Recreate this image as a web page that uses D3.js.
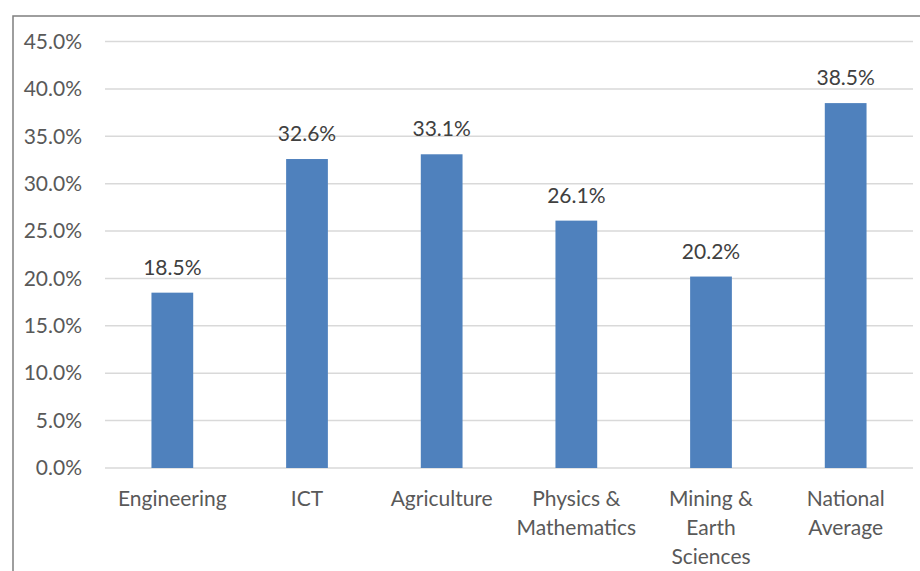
<!DOCTYPE html>
<html>
<head>
<meta charset="utf-8">
<script src="https://cdn.jsdelivr.net/npm/d3@7"></script>
<style>
  html, body { margin: 0; padding: 0; background: #fff; }
  svg { display: block; }
  text { font-family: Lato, "Open Sans", sans-serif; }
</style>
</head>
<body>
<svg id="chart" width="920" height="571"></svg>
<script>
// Share of graduates by field (percent)
const categories = [
  ["Engineering"],
  ["ICT"],
  ["Agriculture"],
  ["Physics &", "Mathematics"],
  ["Mining &", "Earth", "Sciences"],
  ["National", "Average"]
];
const values = [18.5, 32.6, 33.1, 26.1, 20.2, 38.5];
const tickValues = [0, 5, 10, 15, 20, 25, 30, 35, 40, 45];

const svg = d3.select("#chart");
const W = 920, H = 571;
const plot = { left: 105, right: 913, top: 41.5, bottom: 468 };
const fontSize = "21px";

// outer chart frame (runs past the right and bottom edges)
svg.append("rect")
  .attr("x", 13).attr("y", 16)
  .attr("width", W + 20).attr("height", H + 20)
  .attr("fill", "#fff")
  .attr("stroke", "#7f7f7f").attr("stroke-width", 1.5);

const x = d3.scaleBand()
  .domain(d3.range(categories.length))
  .range([plot.left, plot.right])
  .paddingInner(0.69).paddingOuter(0.345);

const y = d3.scaleLinear().domain([0, 45]).range([plot.bottom, plot.top]);

// gridlines
svg.append("g")
  .selectAll("line")
  .data(tickValues)
  .join("line")
  .attr("x1", plot.left).attr("x2", plot.right)
  .attr("y1", d => y(d)).attr("y2", d => y(d))
  .attr("stroke", "#d9d9d9").attr("stroke-width", 1.5);

// y axis labels
const yAxis = d3.axisLeft(y)
  .tickValues(tickValues)
  .tickFormat(d => d.toFixed(1) + "%")
  .tickSize(0).tickPadding(0);
const yg = svg.append("g").attr("transform", `translate(${82},0)`).call(yAxis);
yg.select(".domain").remove();
yg.selectAll("text")
  .attr("fill", "#595959")
  .style("font-size", fontSize)
  .style("font-family", "Lato, 'Open Sans', sans-serif");

// bars
svg.append("g")
  .selectAll("rect")
  .data(values)
  .join("rect")
  .attr("x", (d, i) => x(i))
  .attr("width", x.bandwidth())
  .attr("y", d => y(d))
  .attr("height", d => y(0) - y(d))
  .attr("fill", "#4f81bd");

// value labels
svg.append("g")
  .selectAll("text")
  .data(values)
  .join("text")
  .attr("x", (d, i) => x(i) + x.bandwidth() / 2)
  .attr("y", d => y(d) - 18)
  .attr("text-anchor", "middle")
  .attr("fill", "#404040")
  .style("font-size", fontSize)
  .text(d => d.toFixed(1) + "%");

// category labels
const xl = svg.append("g")
  .selectAll("text")
  .data(categories)
  .join("text")
  .attr("x", (d, i) => x(i) + x.bandwidth() / 2)
  .attr("y", 506)
  .attr("text-anchor", "middle")
  .attr("fill", "#595959")
  .style("font-size", fontSize);
xl.selectAll("tspan")
  .data(d => d)
  .join("tspan")
  .attr("x", function () { return d3.select(this.parentNode).attr("x"); })
  .attr("dy", (d, i) => i === 0 ? 0 : 29)
  .text(d => d);
</script>
</body>
</html>
